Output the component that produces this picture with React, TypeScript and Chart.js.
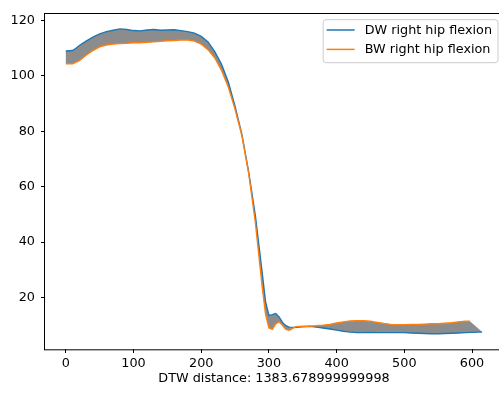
import React, { useEffect, useRef } from 'react';
import { Chart, registerables } from 'chart.js';

Chart.register(...registerables);

// DW right hip flexion (blue)
const dwX = [0, 10, 15, 20, 30, 40, 50, 60, 70, 80, 90, 100, 110, 120, 130, 140, 150, 160, 170, 180, 190, 200, 210, 220, 230, 240, 250, 260, 270, 280, 290, 295, 300, 305, 310, 315, 320, 325, 330, 340, 350, 360, 370, 380, 390, 400, 410, 420, 430, 440, 450, 460, 470, 480, 490, 500, 510, 520, 530, 540, 550, 560, 570, 580, 590, 600, 610, 615];
const dwY = [109, 109.2, 110, 111, 112.6, 114, 115.2, 116, 116.5, 117, 116.8, 116.4, 116.3, 116.6, 116.8, 116.5, 116.6, 116.7, 116.4, 116, 115.5, 114.3, 112.3, 108.8, 104.2, 97.8, 89, 79, 65.5, 49.5, 29, 18.5, 13.5, 13.8, 14.2, 13, 11, 9.8, 9.3, 9.2, 9.4, 9.6, 9.3, 9, 8.6, 8.2, 7.8, 7.5, 7.3, 7.3, 7.4, 7.3, 7.3, 7.3, 7.3, 7.3, 7.2, 7.1, 7, 6.9, 6.9, 7, 7.1, 7.2, 7.3, 7.4, 7.5, 7.5];

// BW right hip flexion (orange)
const bwX = [0, 10, 20, 30, 40, 50, 60, 70, 80, 90, 100, 110, 120, 130, 140, 150, 160, 170, 180, 190, 200, 210, 220, 230, 240, 250, 260, 270, 280, 290, 295, 300, 305, 310, 315, 320, 325, 330, 340, 350, 360, 370, 380, 390, 400, 410, 420, 430, 440, 450, 460, 470, 480, 490, 500, 510, 520, 530, 540, 550, 560, 570, 580, 590, 597];
const bwY = [104.4, 104.4, 105.5, 107.5, 109.2, 110.5, 111.2, 111.5, 111.7, 111.8, 112, 112, 112.2, 112.3, 112.5, 112.7, 112.8, 113, 113, 112.6, 111.5, 109.5, 106.5, 102, 96, 88, 78.5, 65, 47, 24, 14, 9, 8.5, 10.5, 11.2, 10, 8.5, 8.2, 9.5, 9.6, 9.6, 9.8, 10, 10.3, 10.8, 11.2, 11.5, 11.6, 11.6, 11.4, 11, 10.6, 10.3, 10.2, 10.2, 10.3, 10.3, 10.4, 10.5, 10.5, 10.7, 10.9, 11.2, 11.4, 11.4];

const xTicks = [0, 100, 200, 300, 400, 500, 600];
const yTicks = [20, 40, 60, 80, 100, 120];
const seriesLabels = ['DW right hip flexion', 'BW right hip flexion'];
const seriesColors = ['#1f77b4', '#ff7f0e'];
const xTitle = 'DTW distance: 1383.678999999998';

const FONT = 'DejaVu Sans';
const FS = 12.8;

// gray band of warping connections between the two series
const bandPlugin = {
  id: 'warpBand',
  beforeDatasetsDraw(chart: any) {
    const { ctx, chartArea: ca, scales } = chart;
    const sx = scales.x;
    const sy = scales.y;
    ctx.save();
    ctx.beginPath();
    ctx.rect(ca.left, ca.top, ca.right - ca.left, ca.bottom - ca.top);
    ctx.clip();
    ctx.beginPath();
    dwX.forEach((x, i) => {
      const px = sx.getPixelForValue(x);
      const py = sy.getPixelForValue(dwY[i]);
      if (i === 0) ctx.moveTo(px, py);
      else ctx.lineTo(px, py);
    });
    for (let j = bwX.length - 1; j >= 0; j--) {
      ctx.lineTo(sx.getPixelForValue(bwX[j]), sy.getPixelForValue(bwY[j]));
    }
    ctx.closePath();
    ctx.fillStyle = 'rgba(128,128,128,0.9)';
    ctx.fill();
    ctx.restore();
  },
};

const framePlugin = {
  id: 'mplFrame',
  afterDraw(chart: any) {
    const { ctx, chartArea: ca } = chart;
    ctx.save();
    ctx.strokeStyle = '#000';
    ctx.lineWidth = 1;
    ctx.strokeRect(Math.round(ca.left) - 0.5, Math.round(ca.top) - 0.5, ca.right - ca.left + 1, ca.bottom - ca.top + 1);

    // legend
    ctx.font = `${FS}px "${FONT}"`;
    const textW = Math.max(...seriesLabels.map((s) => ctx.measureText(s).width));
    const boxRight = ca.right - 5;
    const boxTop = ca.top + 6;
    const boxW = 3.5 + 28 + 10 + textW + 6;
    const boxH = 43;
    const boxLeft = boxRight - boxW;
    const r = 3;
    ctx.beginPath();
    ctx.moveTo(boxLeft + r, boxTop);
    ctx.lineTo(boxRight - r, boxTop);
    ctx.arcTo(boxRight, boxTop, boxRight, boxTop + r, r);
    ctx.lineTo(boxRight, boxTop + boxH - r);
    ctx.arcTo(boxRight, boxTop + boxH, boxRight - r, boxTop + boxH, r);
    ctx.lineTo(boxLeft + r, boxTop + boxH);
    ctx.arcTo(boxLeft, boxTop + boxH, boxLeft, boxTop + boxH - r, r);
    ctx.lineTo(boxLeft, boxTop + r);
    ctx.arcTo(boxLeft, boxTop, boxLeft + r, boxTop, r);
    ctx.closePath();
    ctx.fillStyle = 'rgba(255,255,255,0.8)';
    ctx.fill();
    ctx.strokeStyle = '#cccccc';
    ctx.lineWidth = 1;
    ctx.stroke();
    seriesLabels.forEach((label, k) => {
      const y = boxTop + 10.3 + k * 19.4;
      ctx.beginPath();
      ctx.moveTo(boxLeft + 3.5, y);
      ctx.lineTo(boxLeft + 31.5, y);
      ctx.strokeStyle = seriesColors[k];
      ctx.lineWidth = 1.5;
      ctx.stroke();
      ctx.fillStyle = '#000';
      ctx.textAlign = 'left';
      ctx.textBaseline = 'middle';
      ctx.fillText(label, boxLeft + 41.5, y + 0.5);
    });
    ctx.restore();
  },
};

export default function App() {
  const ref = useRef<HTMLCanvasElement | null>(null);

  useEffect(() => {
    const canvas = ref.current;
    if (!canvas) return;
    const chart = new Chart(canvas, {
      type: 'line',
      data: {
        datasets: [
          {
            label: seriesLabels[0],
            data: dwX.map((x, i) => ({ x, y: dwY[i] })),
            borderColor: seriesColors[0],
            borderWidth: 1.4,
            pointRadius: 0,
            fill: false,
            order: 2,
          },
          {
            label: seriesLabels[1],
            data: bwX.map((x, i) => ({ x, y: bwY[i] })),
            borderColor: seriesColors[1],
            borderWidth: 1.4,
            pointRadius: 0,
            fill: false,
            order: 1,
          },
        ],
      },
      options: {
        responsive: false,
        animation: false,
        devicePixelRatio: 1,
        layout: { padding: { top: 7, right: 7, left: 0, bottom: 0 } },
        plugins: { legend: { display: false }, tooltip: { enabled: false } },
        elements: { line: { tension: 0 } },
        scales: {
          x: {
            type: 'linear',
            min: -30.75,
            max: 645.75,
            afterBuildTicks: (s: any) => {
              s.ticks = xTicks.map((v) => ({ value: v }));
            },
            afterFit: (s: any) => {
              s.height = 47;
            },
            grid: { drawOnChartArea: false, drawTicks: true, tickLength: 4, color: '#000' },
            border: { display: false },
            ticks: { color: '#000', padding: 3, font: { family: FONT, size: FS }, maxRotation: 0, callback: (v: any) => String(v) },
            title: { display: true, text: xTitle, color: '#000', font: { family: FONT, size: FS }, padding: { top: 0, bottom: 10 } },
          },
          y: {
            type: 'linear',
            min: 1.4,
            max: 122.5,
            afterBuildTicks: (s: any) => {
              s.ticks = yTicks.map((v) => ({ value: v }));
            },
            afterFit: (s: any) => {
              s.width = 45;
            },
            grid: { drawOnChartArea: false, drawTicks: true, tickLength: 4, color: '#000' },
            border: { display: false },
            ticks: { color: '#000', padding: 6, font: { family: FONT, size: FS }, callback: (v: any) => String(v) },
          },
        },
      },
      plugins: [bandPlugin, framePlugin],
    } as any);
    return () => chart.destroy();
  }, []);

  return (
    <div style={{ position: 'fixed', left: 0, top: 0, width: 499, height: 396, overflow: 'hidden', background: '#fff' }}>
      <canvas ref={ref} width={510} height={396} style={{ display: 'block', width: 510, height: 396 }} />
    </div>
  );
}
